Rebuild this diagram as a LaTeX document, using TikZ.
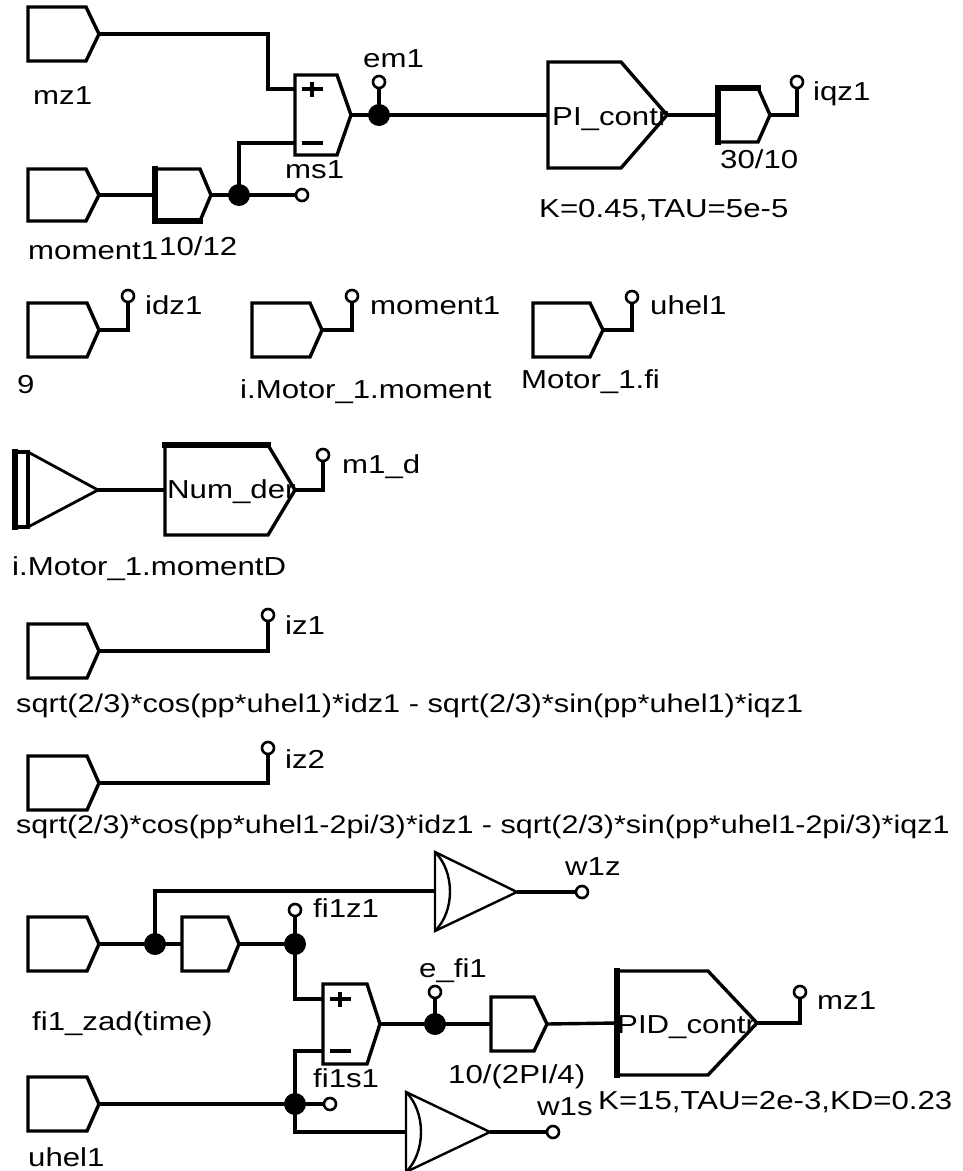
\documentclass[tikz,border=0pt]{standalone}
\usepackage{fontspec}
\setmainfont{Liberation Sans}[FakeStretch=1.2]
\newcommand\blkpent[6][]{%
  \draw[blk,#1] (#2,#3) -- (#5,#3) -- (#6,{(#3+#4)/2}) -- (#5,#4) -- (#2,#4) -- cycle;}
\begin{document}
\begin{tikzpicture}[x=1pt,y=-1pt,
  blk/.style={draw,line width=3.4pt,line join=miter},
  wire/.style={draw,line width=3.4pt,line join=miter},
  thick5/.style={line width=5.5pt,line cap=rect},
  cmp/.style={draw,line width=2.4pt,line join=miter},
  jdot/.style={circle,fill=black,inner sep=0pt,minimum size=22pt},
  port/.style={circle,draw,line width=2.6pt,fill=white,inner sep=0pt,minimum size=12pt},
  sgn/.style={line width=3.8pt},
  lbl/.style={inner sep=0pt,anchor=base west,font=\fontsize{26pt}{30pt}\selectfont}]
\path[use as bounding box] (0,0) rectangle (963,1171);

% ---------- ports and junctions ----------
\node[port] (pm1) at (302,195) {};
\node[port] (pem1) at (379,82) {};
\node[port] (piqz) at (797,82) {};
\node[port] (pidz) at (128,296) {};
\node[port] (pmom) at (352,296) {};
\node[port] (puh) at (632,297) {};
\node[port] (pm1d) at (323,455) {};
\node[port] (piz1) at (268,615) {};
\node[port] (piz2) at (268,748) {};
\node[port] (pw1z) at (582,892) {};
\node[port] (pfiz) at (295,910) {};
\node[port] (pefi) at (435,992) {};
\node[port] (pmz) at (800,992) {};
\node[port] (puh2) at (330,1104) {};
\node[port] (pw1s) at (553,1132) {};
\node[jdot] (d1) at (239,195) {};
\node[jdot] (d2) at (379,115) {};
\node[jdot] (d3) at (155,944) {};
\node[jdot] (d4) at (295,944) {};
\node[jdot] (d5) at (435,1024) {};
\node[jdot] (d6) at (295,1104) {};

% ---------- block port coordinates ----------
\coordinate (mzo) at (99,34);
\coordinate (sumAp) at (295,89);
\coordinate (sumAm) at (295,143);
\coordinate (sumAo) at (351,115);
\coordinate (m1o) at (99,195);
\coordinate (gAi) at (155,195);
\coordinate (gAo) at (211,195);
\coordinate (PIi) at (548,115);
\coordinate (PIo) at (667,115);
\coordinate (gBi) at (718,115);
\coordinate (gBo) at (770,115);
\coordinate (idzo) at (99,330);
\coordinate (momo) at (322,330);
\coordinate (uho) at (603,330);
\coordinate (trio) at (98,490);
\coordinate (NDi) at (165,490);
\coordinate (NDo) at (295,490);
\coordinate (iz1o) at (99,651);
\coordinate (iz2o) at (99,783);
\coordinate (fzo) at (99,944);
\coordinate (gCi) at (182,944);
\coordinate (gCo) at (239,944);
\coordinate (w1zi) at (435,891);
\coordinate (sumBp) at (323,999);
\coordinate (sumBm) at (323,1051);
\coordinate (sumBo) at (380,1024);
\coordinate (gDi) at (491,1024);
\coordinate (gDo) at (547,1024);
\coordinate (PIDi) at (617,1023);
\coordinate (PIDo) at (757,1023);
\coordinate (uh2o) at (99,1104);
\coordinate (w1si) at (406,1132);

% ---------- connectors ----------
\draw[wire] (mzo) -| (268,89) -- (sumAp);
\draw[wire] (m1o) -- (gAi);
\draw[wire] (gAo) -- (d1.center) -- (pm1);
\draw[wire] (d1.center) |- (sumAm);
\draw[wire] (sumAo) -- (d2.center) -- (PIi);
\draw[wire] (d2.center) -- (pem1);
\draw[wire] (PIo) -- (gBi);
\draw[wire] (gBo) -| (piqz);
\draw[wire] (idzo) -| (pidz);
\draw[wire] (momo) -| (pmom);
\draw[wire] (uho) -| (puh);
\draw[wire] (trio) -- (NDi);
\draw[wire] (NDo) -| (pm1d);
\draw[wire] (iz1o) -| (piz1);
\draw[wire,line width=3.9pt] (iz2o) -| (piz2);
\draw[wire] (fzo) -- (d3.center) -- (gCi);
\draw[wire] (d3.center) |- (w1zi);
\draw[wire] (gCo) -- (d4.center) -- (pfiz);
\draw[wire] (d4.center) |- (sumBp);
\draw[wire] (sumBo) -- (d5.center) -- (gDi);
\draw[wire] (d5.center) -- (pefi);
\draw[wire] (gDo) -- (PIDi);
\draw[wire] (PIDo) -| (pmz);
\draw[wire] (uh2o) -- (d6.center) -- (puh2);
\draw[wire] (d6.center) |- (sumBm);
\draw[wire] (d6.center) |- (w1si);
\draw[wire] (517,892) -- (pw1z);
\draw[wire] (490,1132) -- (pw1s);

% ---------- blocks ----------
\blkpent{28}{7}{61}{86}{99}
\blkpent{28}{169}{221}{86}{99}
\blkpent{155}{169}{221}{200}{211}
\draw[thick5] (155,169) -- (155,221) -- (200,221);
\blkpent{295}{75}{155}{337}{351}
\draw[sgn] (301.5,89) -- (322.5,89) (312,81.5) -- (312,96.5);
\draw[sgn] (301.5,143) -- (322.5,143);
\blkpent{548}{62}{168}{621}{667}
\blkpent{718}{88}{142}{758}{770}
\draw[thick5] (718,142) -- (718,88) -- (758,88);
\blkpent{28}{303}{357}{87}{99}
\blkpent{252}{303}{357}{310}{322}
\blkpent{533}{303}{357}{590}{603}
% derivative input
\draw[blk] (15,452) rectangle (28,527);
\draw[thick5] (15,452) -- (15,527);
\draw[blk,line width=2.8pt] (28,452) -- (trio) -- (28,527);
\blkpent{165}{445}{535}{268}{295}
\draw[thick5] (165,445) -- (268,445);
\blkpent{28}{624}{678}{87}{99}
\blkpent{28}{756}{810}{87}{99}
\blkpent{28}{917}{971}{87}{99}
\blkpent{182}{917}{971}{228}{239}
\blkpent{323}{984}{1064}{367}{380}
\draw[sgn] (329.5,999) -- (350.5,999) (340,991.5) -- (340,1006.5);
\draw[sgn] (329.5,1051) -- (350.5,1051);
\blkpent{28}{1077}{1131}{87}{99}
\blkpent{491}{997}{1051}{534}{547}
\blkpent{617}{971}{1075}{708}{757}
\draw[thick5] (617,971) -- (617,1075);
% comparators
\draw[cmp] (435,852) -- (517,892) -- (435,931) -- cycle;
\draw[cmp] (435,852) .. controls (455,872) and (455,911) .. (435,931);
\draw[cmp] (406,1092) -- (490,1132) -- (406,1172) -- cycle;
\draw[cmp] (406,1092) .. controls (426,1112) and (426,1152) .. (406,1172);

% ---------- labels ----------
\node[lbl] (t1) at (33,104) {mz1};
\node[lbl] (t2) at (28,259) {moment1};
\node[lbl] (t3) at (159,255) {10/12};
\node[lbl] (t4) at (285,178) {ms1};
\node[lbl] (t5) at (363,67) {em1};
\node[lbl] (t6) at (552,125) {PI\_contr};
\node[lbl] (t7) at (720,168) {30/10};
\node[lbl] (t8) at (813,100) {iqz1};
\node[lbl] (t9) at (539,217) {K=0.45,TAU=5e-5};
\node[lbl] (t10) at (145,314) {idz1};
\node[lbl] (t11) at (17,393) {9};
\node[lbl] (t12) at (370,314) {moment1};
\node[lbl] (t13) at (240,398) {i.Motor\_1.moment};
\node[lbl] (t14) at (650,314) {uhel1};
\node[lbl] (t15) at (521,388) {Motor\_1.fi};
\node[lbl] (t16) at (167,498) {Num\_der};
\node[lbl] (t17) at (342,473) {m1\_d};
\node[lbl] (t18) at (12,575) {i.Motor\_1.momentD};
\node[lbl] (t19) at (285,634) {iz1};
\node[lbl,font=\fontsize{25.6pt}{30pt}\selectfont] (t20) at (16,712) {sqrt(2/3)*cos(pp*uhel1)*idz1 - sqrt(2/3)*sin(pp*uhel1)*iqz1};
\node[lbl] (t21) at (285,768) {iz2};
\node[lbl,font=\fontsize{25.4pt}{30pt}\selectfont] (t22) at (16,833) {sqrt(2/3)*cos(pp*uhel1-2pi/3)*idz1 - sqrt(2/3)*sin(pp*uhel1-2pi/3)*iqz1};
\node[lbl] (t23) at (565,875) {w1z};
\node[lbl] (t24) at (313,917) {fi1z1};
\node[lbl] (t25) at (419,977) {e\_fi1};
\node[lbl] (t26) at (32,1030) {fi1\_zad(time)};
\node[lbl] (t27) at (313,1087) {fi1s1};
\node[lbl] (t28) at (448,1083) {10/(2PI/4)};
\node[lbl] (t29) at (817,1009) {mz1};
\node[lbl] (t30) at (617,1033) {PID\_contr};
\node[lbl] (t31) at (598,1109) {K=15,TAU=2e-3,KD=0.23};
\node[lbl] (t32) at (537,1115) {w1s};
\node[lbl] (t33) at (28,1166) {uhel1};
\end{tikzpicture}
\end{document}
